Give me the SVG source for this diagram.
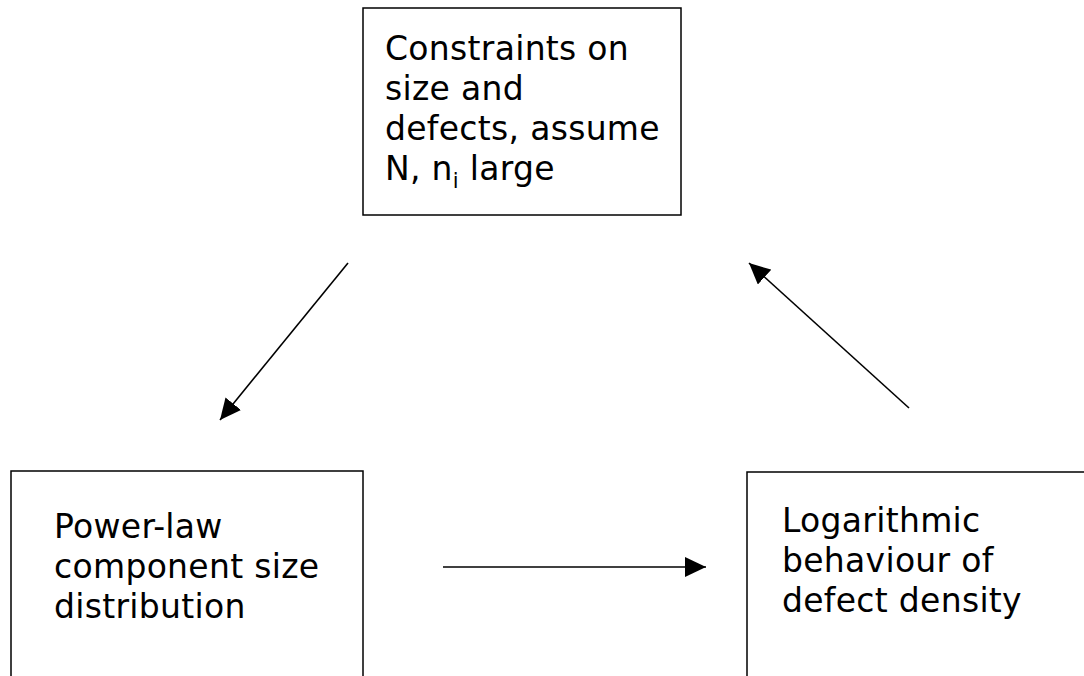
<svg xmlns="http://www.w3.org/2000/svg" width="1084" height="676" viewBox="0 0 1084 676">
  <style>
    .box { fill: #ffffff; stroke: #000000; stroke-width: 1.5; }
    .lbl { font-family: "DejaVu Sans", "Liberation Sans", sans-serif; font-size: 33px; letter-spacing: 0.3px; fill: #000000; }
    .sub { font-size: 21px; }
    .conn { stroke: #000000; stroke-width: 1.6; fill: none; marker-end: url(#ah); }
  </style>
  <defs>
    <marker id="ah" markerUnits="userSpaceOnUse" markerWidth="24" markerHeight="20" refX="21" refY="10" orient="auto">
      <path d="M0,0 L21,10 L0,20 Z" fill="#000000"/>
    </marker>
  </defs>
  <rect width="1084" height="676" fill="#ffffff"/>
  <g id="node-constraints">
    <rect class="box" x="363" y="8" width="318" height="207"/>
    <text class="lbl" x="385" y="60">Constraints on</text>
    <text class="lbl" x="385" y="100">size and</text>
    <text class="lbl" x="385" y="140">defects, assume</text>
    <text class="lbl" x="385" y="180">N, n<tspan class="sub" dy="8">i</tspan><tspan dy="-8"> large</tspan></text>
  </g>
  <g id="node-powerlaw">
    <rect class="box" x="11" y="471" width="352" height="230"/>
    <text class="lbl" x="54" y="538">Power-law</text>
    <text class="lbl" x="54" y="578">component size</text>
    <text class="lbl" x="54" y="618">distribution</text>
  </g>
  <g id="node-logarithmic">
    <rect class="box" x="747" y="472" width="360" height="230"/>
    <text class="lbl" x="782" y="532">Logarithmic</text>
    <text class="lbl" x="782" y="572">behaviour of</text>
    <text class="lbl" x="782" y="612">defect density</text>
  </g>
  <g id="connectors">
    <line class="conn" x1="348" y1="263" x2="220" y2="420"/>
    <line class="conn" x1="443" y1="567" x2="706" y2="567"/>
    <line class="conn" x1="909" y1="408" x2="749" y2="263"/>
  </g>
</svg>
